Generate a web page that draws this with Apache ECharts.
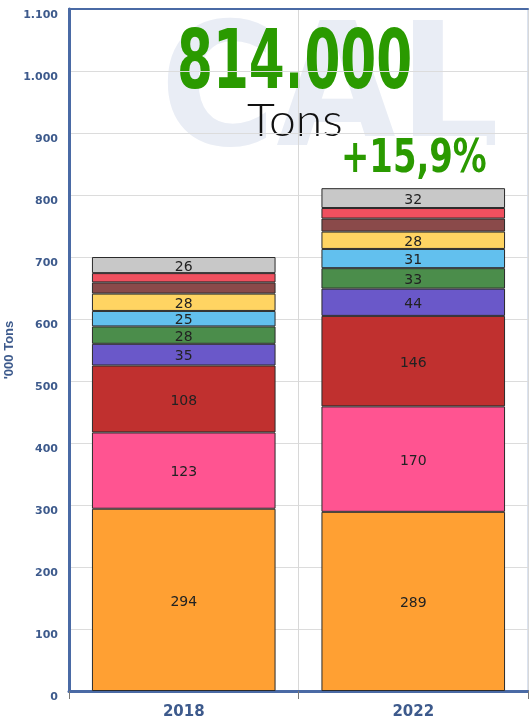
<!DOCTYPE html>
<html>
<head>
<meta charset="utf-8">
<script src="https://cdn.jsdelivr.net/npm/echarts@6/dist/echarts.min.js"></script>
<style>
  html, body { margin: 0; padding: 0; background: #fff; }
  #chart { width: 529px; height: 721px; }
</style>
</head>
<body>
<div id="chart"></div>
<script>
// data, '000 tons per segment, bottom to top
const years = ['2018', '2022']
const orange = [294, 289]
const pink = [123, 170]
const darkRed = [108, 146]
const purple = [35, 44]
const green = [28, 33]
const lightBlue = [25, 31]
const yellow = [28, 28]
const brown = [18, 21]
const red = [15, 17]
const grey = [26, 32]
const yTicks = [0, 100, 200, 300, 400, 500, 600, 700, 800, 900, 1000, 1100]

const AXIS_BLUE = '#3d5a8c'

const segments = [
  { data: orange, color: '#ffa033', label: true },
  { data: pink, color: '#ff5491', label: true },
  { data: darkRed, color: '#c0302f', label: true },
  { data: purple, color: '#6a58c9', label: true },
  { data: green, color: '#4b8d4b', label: true },
  { data: lightBlue, color: '#62c0ee', label: true },
  { data: yellow, color: '#ffd462', label: true },
  { data: brown, color: '#8a4a4a', label: false },
  { data: red, color: '#f0505f', label: false },
  { data: grey, color: '#c8c8c8', label: true },
]

let chart = echarts.init(document.getElementById('chart'))
let option = {
  animation: false,
  grid: {
    left: 69,
    right: 1,
    top: 9,
    bottom: 30,
    outerBoundsMode: 'none',
    containLabel: false,
    show: true,
    borderColor: '#b7c6e0',
    borderWidth: 1,
  },
  xAxis: [
    {
      type: 'category',
      data: years,
      axisLine: { lineStyle: { color: '#4a6aa5', width: 3 } },
      axisTick: { show: true, length: 8, lineStyle: { color: '#777' } },
      axisLabel: {
        color: AXIS_BLUE,
        fontFamily: 'DejaVu Sans',
        fontWeight: 'bold',
        fontSize: 15,
        margin: 14,
      },
      splitLine: { show: true, lineStyle: { color: '#d8d8d8' } },
    },
    {
      // top frame line only
      type: 'category',
      position: 'top',
      data: years,
      axisLine: { lineStyle: { color: '#4a6aa5', width: 2 } },
      axisTick: { show: false },
      axisLabel: { show: false },
    },
  ],
  yAxis: {
    type: 'value',
    min: 0,
    max: 1100,
    interval: 100,
    name: "'000 Tons",
    nameLocation: 'middle',
    nameGap: 53,
    nameMoveOverlap: false,
    nameTextStyle: {
      color: AXIS_BLUE,
      fontFamily: 'Liberation Sans',
      fontWeight: 'bold',
      fontSize: 13,
    },
    axisLine: { show: true, lineStyle: { color: '#4a6aa5', width: 3 } },
    axisTick: { show: false },
    axisLabel: {
      color: AXIS_BLUE,
      fontFamily: 'DejaVu Sans',
      fontWeight: 'bold',
      fontSize: 11,
      margin: 11,
      verticalAlign: 'top',
      padding: [1, 0, 0, 0],
      formatter: (v) => yTicks.includes(v) ? String(v).replace(/\B(?=(\d{3})+(?!\d))/g, '.') : '',
    },
    splitLine: { lineStyle: { color: '#dcdcdc' } },
  },
  graphic: [
    {
      type: 'text',
      z: -1,
      silent: true,
      left: 160,
      top: 14,
      scaleX: 0.92,
      style: {
        text: 'CAL',
        fill: '#e9edf5',
        font: 'bold 172px "DejaVu Sans"',
      },
    },
    {
      type: 'text',
      left: 177,
      top: 26,
      scaleX: 0.7,
      style: {
        text: '814.000',
        fill: '#2a9a00',
        font: 'bold 82px "DejaVu Sans Condensed"',
      },
    },
    {
      type: 'text',
      left: 247,
      top: 99,
      scaleX: 1.07,
      style: {
        text: 'Tons',
        fill: '#111',
        font: '300 45px Lato',
      },
    },
    {
      type: 'text',
      left: 341,
      top: 136,
      scaleX: 0.8,
      style: {
        text: '+15,9%',
        fill: '#2a9a00',
        backgroundColor: '#fff',
        font: 'bold 47px "DejaVu Sans Condensed"',
      },
    },
  ],
  series: segments.map((s) => ({
    type: 'bar',
    stack: 'total',
    barWidth: '80%',
    data: s.data,
    itemStyle: { color: s.color, borderColor: '#2b2b2b', borderWidth: 1 },
    label: {
      show: s.label,
      position: 'inside',
      offset: [0, 2],
      color: '#222',
      fontFamily: 'DejaVu Sans',
      fontSize: 14,
    },
  })),
}
chart.setOption(option)
</script>
</body>
</html>
